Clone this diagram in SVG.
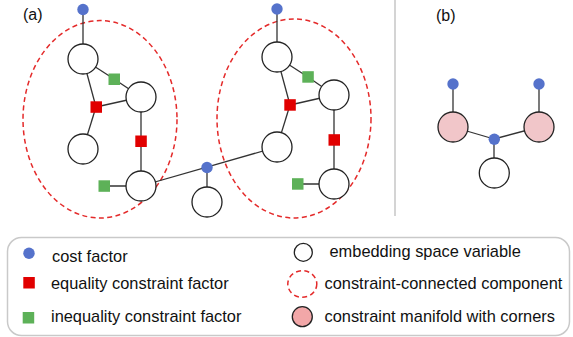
<svg xmlns="http://www.w3.org/2000/svg" width="573" height="337" viewBox="0 0 573 337">
<style>
text{font-family:"Liberation Sans",Arial,sans-serif;fill:#111}
.lbl{font-size:16px}
.leg{font-size:16.4px}
.e{stroke:#333;stroke-width:1.3;fill:none}
.v{fill:#fff;stroke:#222;stroke-width:1.3}
.p{fill:#F1C6C9;stroke:#222;stroke-width:1.3}
.c{fill:#5572CB}
.eq{fill:#E10000}
.iq{fill:#5DB158}
.cc{fill:none;stroke:#E42A2A;stroke-width:1.5;stroke-dasharray:5 3.4}
</style>
<rect width="573" height="337" fill="#fff"/>
<line x1="395" y1="0" x2="395" y2="216" stroke="#D4D4D4" stroke-width="2"/>
<text class="lbl" x="23" y="20">(a)</text>
<text class="lbl" x="436" y="21">(b)</text>
<g id="components">
<ellipse class="cc" cx="100" cy="119.3" rx="77" ry="98.7"/>
<ellipse class="cc" cx="294" cy="118.5" rx="77" ry="99.5"/>
</g>
<g id="connectors">
<line class="e" x1="83" y1="9" x2="83" y2="59"/>
<line class="e" x1="83" y1="59" x2="114" y2="79"/>
<line class="e" x1="114" y1="79" x2="141" y2="97"/>
<line class="e" x1="83" y1="59" x2="96" y2="107"/>
<line class="e" x1="96" y1="107" x2="141" y2="97"/>
<line class="e" x1="96" y1="107" x2="83" y2="149"/>
<line class="e" x1="141" y1="97" x2="141" y2="186"/>
<line class="e" x1="104" y1="186" x2="141" y2="186"/>
<line class="e" x1="141" y1="186" x2="277" y2="147"/>
<line class="e" x1="207" y1="167" x2="207" y2="202"/>
<line class="e" x1="277" y1="9" x2="277" y2="57"/>
<line class="e" x1="277" y1="57" x2="308" y2="77"/>
<line class="e" x1="308" y1="77" x2="334" y2="95"/>
<line class="e" x1="277" y1="57" x2="290" y2="105"/>
<line class="e" x1="290" y1="105" x2="334" y2="95"/>
<line class="e" x1="290" y1="105" x2="277" y2="147"/>
<line class="e" x1="334" y1="95" x2="334" y2="184"/>
<line class="e" x1="298" y1="184" x2="334" y2="184"/>
<line class="e" x1="453" y1="84" x2="453" y2="127"/>
<line class="e" x1="539" y1="84" x2="539" y2="127"/>
<line class="e" x1="453" y1="127" x2="494" y2="139"/>
<line class="e" x1="539" y1="127" x2="494" y2="139"/>
<line class="e" x1="494" y1="139" x2="494" y2="173"/>
</g>
<g id="a-left">
<circle id="cost-a1" class="c" cx="83" cy="9.5" r="5.7"/>
<circle id="var-a1" class="v" cx="83" cy="59" r="15"/>
<circle id="var-a2" class="v" cx="141" cy="97" r="15"/>
<circle id="var-a3" class="v" cx="83" cy="149" r="15"/>
<circle id="var-a4" class="v" cx="141" cy="186" r="15"/>
<rect id="ineq-a1" class="iq" x="108.5" y="73.5" width="11.5" height="11.5"/>
<rect id="eq-a1" class="eq" x="90.5" y="101.3" width="11.5" height="11.5"/>
<rect id="eq-a2" class="eq" x="135.3" y="135.5" width="11.5" height="11.5"/>
<rect id="ineq-a2" class="iq" x="98.5" y="180.3" width="11.5" height="11.5"/>
</g>
<g id="a-middle">
<circle id="cost-mid" class="c" cx="207" cy="167.5" r="5.7"/>
<circle id="var-mid" class="v" cx="207" cy="202" r="15"/>
</g>
<g id="a-right">
<circle id="cost-b1" class="c" cx="277" cy="9" r="5.7"/>
<circle id="var-b1" class="v" cx="277" cy="57" r="15"/>
<circle id="var-b2" class="v" cx="334" cy="95" r="15"/>
<circle id="var-b3" class="v" cx="277" cy="147" r="15"/>
<circle id="var-b4" class="v" cx="334" cy="184" r="15"/>
<rect id="ineq-b1" class="iq" x="302.3" y="71.2" width="11.5" height="11.5"/>
<rect id="eq-b1" class="eq" x="284.3" y="99.2" width="11.5" height="11.5"/>
<rect id="eq-b2" class="eq" x="328.5" y="134.2" width="11.5" height="11.5"/>
<rect id="ineq-b2" class="iq" x="292" y="178.2" width="11.5" height="11.5"/>
</g>
<g id="b">
<circle id="cost-c1" class="c" cx="453" cy="84" r="5.7"/>
<circle id="cost-c2" class="c" cx="539" cy="84" r="5.7"/>
<circle id="man-c1" class="p" cx="453" cy="127" r="15"/>
<circle id="man-c2" class="p" cx="539" cy="127" r="15"/>
<circle id="cost-c3" class="c" cx="494.3" cy="139.3" r="5.7"/>
<circle id="var-c1" class="v" cx="494.3" cy="173" r="15"/>
</g>
<g id="legend">
<rect x="7.5" y="237.5" width="562" height="98" rx="14" fill="none" stroke="#C9C9C9" stroke-width="1.5"/>
<circle class="c" cx="29" cy="253.3" r="5.7"/>
<text class="leg" x="52" y="261.5">cost factor</text>
<rect class="eq" x="23.3" y="277" width="11.5" height="11.5"/>
<text class="leg" x="51" y="288.5">equality constraint factor</text>
<rect class="iq" x="22.7" y="312" width="11.5" height="11.5"/>
<text class="leg" x="51" y="321.7">inequality constraint factor</text>
<circle class="v" cx="303.3" cy="252.3" r="9"/>
<text class="leg" x="329.5" y="256.7">embedding space variable</text>
<ellipse class="cc" cx="302.3" cy="284" rx="14.5" ry="13.3"/>
<text class="leg" x="324.5" y="288.5">constraint-connected component</text>
<circle cx="302.3" cy="316.7" r="10" fill="#F2A7A8" stroke="#222" stroke-width="1.3"/>
<text class="leg" x="324.5" y="321.7">constraint manifold with corners</text>
</g>
</svg>
